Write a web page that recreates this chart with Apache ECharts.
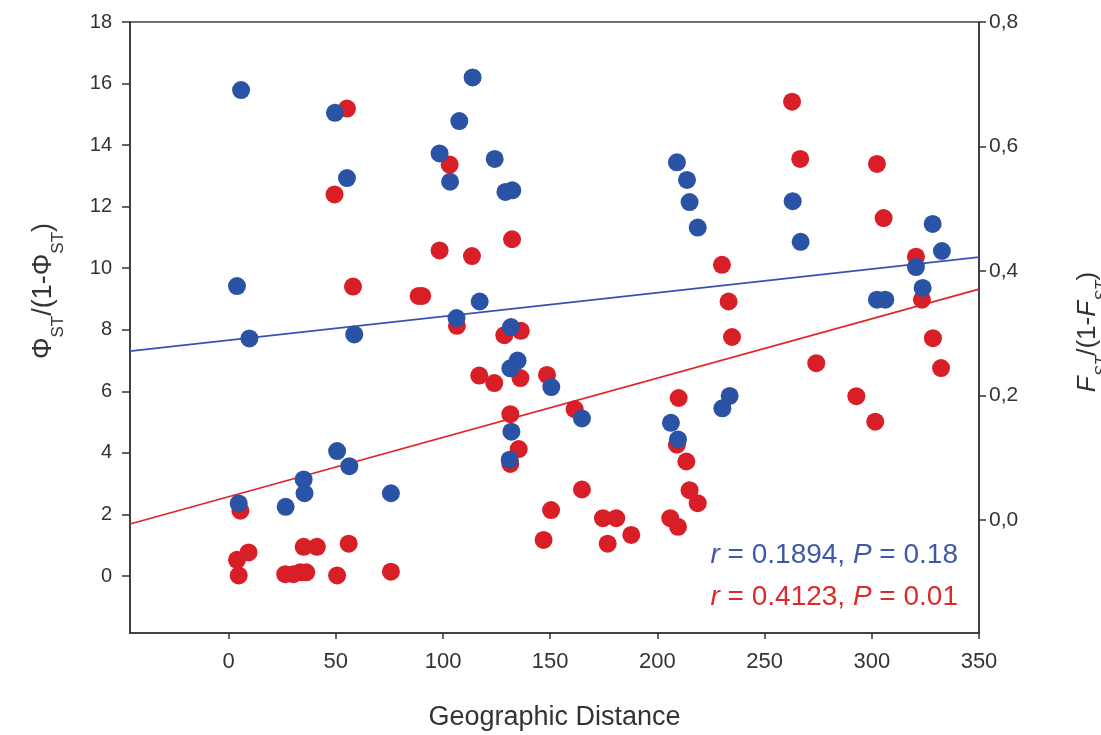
<!DOCTYPE html>
<html>
<head>
<meta charset="utf-8">
<script src="https://cdn.jsdelivr.net/npm/echarts@6/dist/echarts.min.js"></script>
<style>
html,body{margin:0;padding:0;background:#ffffff;}
#chart{width:1101px;height:735px;}
</style>
</head>
<body>
<div id="chart"></div>
<script>
// Blue: Phi_ST/(1-Phi_ST) vs geographic distance (left axis)
const blueDist = [5.8, 3.9, 9.7, 58.6, 50.6, 56.3, 35.0, 35.4, 4.7, 26.6, 75.7, 49.6, 55.2,
  113.8, 107.6, 98.4, 103.3, 124.1, 129.1, 132.3, 117.1, 106.3, 131.7,
  209.1, 213.8, 215.0, 218.8, 263.1, 266.8, 328.4, 332.7, 320.6, 323.7, 302.4, 306.3,
  134.8, 131.4, 150.5, 164.8, 131.9, 131.1, 206.3, 209.6, 233.7, 230.3];
const bluePhi = [15.79, 9.42, 7.72, 7.85, 4.06, 3.57, 3.14, 2.69, 2.36, 2.25, 2.69, 15.05, 12.93,
  16.2, 14.78, 13.73, 12.81, 13.55, 12.48, 12.53, 8.92, 8.38, 8.09,
  13.44, 12.87, 12.15, 11.32, 12.18, 10.86, 11.44, 10.56, 10.04, 9.36, 8.98, 8.98,
  7.0, 6.75, 6.14, 5.12, 4.69, 3.78, 4.98, 4.44, 5.85, 5.45];

// Red: F_ST/(1-F_ST) vs geographic distance (right axis)
const redDist = [55.2, 49.4, 58.0, 88.6, 5.5, 9.3, 3.9, 4.7, 35.0, 41.2, 56.0,
  26.4, 30.2, 33.4, 36.2, 50.6, 75.7,
  103.1, 98.4, 113.5, 132.2, 90.3, 106.5, 128.6, 136.3, 116.9, 123.9, 136.1, 148.5,
  131.4, 135.3, 131.4, 161.4, 209.9, 209.1, 213.5, 215.0, 218.8, 164.8, 150.4, 146.9,
  174.6, 180.8, 176.8, 187.8, 206.0, 209.6,
  262.8, 266.6, 302.4, 305.5, 230.1, 233.2, 320.6, 323.4, 234.8, 274.1, 292.8, 301.6, 328.5, 332.3];
const redF = [0.661, 0.523, 0.375, 0.360, 0.015, -0.052, -0.064, -0.089, -0.043, -0.043, -0.038,
  -0.087, -0.087, -0.084, -0.084, -0.089, -0.083,
  0.571, 0.433, 0.424, 0.451, 0.360, 0.312, 0.297, 0.304, 0.232, 0.220, 0.228, 0.233,
  0.170, 0.114, 0.090, 0.178, 0.196, 0.121, 0.094, 0.048, 0.027, 0.049, 0.016, -0.032,
  0.003, 0.003, -0.038, -0.024, 0.003, -0.011,
  0.672, 0.580, 0.572, 0.485, 0.410, 0.351, 0.423, 0.354, 0.294, 0.252, 0.199, 0.158, 0.292, 0.244];

// Regression line end points
const blueLineX = [-46, 350];
const blueLineY = [7.31, 10.36];
const redLineX = [-46, 350];
const redLineY = [-0.0064, 0.371];

// Tick labels
const xTicks = [0, 50, 100, 150, 200, 250, 300, 350];
const leftTicks = [0, 2, 4, 6, 8, 10, 12, 14, 16, 18];
const rightTicks = [0, 0.2, 0.4, 0.6, 0.8];

const annotBlue = ['r', ' = 0.1894, ', 'P', ' = 0.18'];
const annotRed = ['r', ' = 0.4123, ', 'P', ' = 0.01'];

const FONT = '"Liberation Sans", Arial, sans-serif';
const AXIS_COLOR = '#333333';
const BLUE = '#2a52a5';
const RED = '#d81e26';

const zip = (a, b) => a.map((v, i) => [v, b[i]]);

const chart = echarts.init(document.getElementById('chart'), null, {renderer: 'canvas'});

const axisLine = {show: true, onZero: false, lineStyle: {color: AXIS_COLOR, width: 1.6}};

chart.setOption({
  backgroundColor: '#ffffff',
  animation: false,
  grid: {
    left: 130, right: 122, top: 22, bottom: 102,
    show: true, borderColor: '#444', borderWidth: 1.4, backgroundColor: '#ffffff',
    containLabel: false, outerBoundsMode: 'none'
  },
  xAxis: {
    type: 'value', min: -46, max: 350,
    axisLine: axisLine,
    splitLine: {show: false},
    axisTick: {show: true, inside: false, length: 6, customValues: xTicks, lineStyle: {color: AXIS_COLOR, width: 1.5}},
    axisLabel: {customValues: xTicks, margin: 18, fontSize: 22, fontFamily: FONT, color: '#333'},
    name: 'Geographic Distance', nameLocation: 'middle', nameGap: 71,
    nameTextStyle: {fontSize: 27, fontFamily: FONT, color: '#333'}
  },
  yAxis: [{
    type: 'value', min: -1.85, max: 18, position: 'left',
    axisLine: axisLine,
    splitLine: {show: false},
    axisTick: {show: true, inside: false, length: 8, customValues: leftTicks, lineStyle: {color: AXIS_COLOR, width: 1.5}},
    axisLabel: {customValues: leftTicks, margin: 18, fontSize: 20, fontFamily: FONT, color: '#333'}
  }, {
    type: 'value', min: -0.1815, max: 0.8, position: 'right', alignTicks: false,
    axisLine: axisLine,
    splitLine: {show: false},
    axisTick: {show: true, inside: false, length: 7, customValues: rightTicks, lineStyle: {color: AXIS_COLOR, width: 1.5}},
    axisLabel: {customValues: rightTicks, margin: 10, fontSize: 21, fontFamily: FONT, color: '#333',
      formatter: v => v.toFixed(1).replace('.', ',')}
  }],
  graphic: [{
    type: 'text', x: 44, y: 291, rotation: Math.PI / 2,
    style: {
      text: '{m|Φ}{s|ST}{m|/(1-Φ}{s|ST}{m|)}',
      align: 'center', verticalAlign: 'middle', fill: '#333',
      rich: {
        m: {fontSize: 27, fontFamily: FONT, lineHeight: 28, verticalAlign: 'top', fill: '#333'},
        s: {fontSize: 17, fontFamily: FONT, lineHeight: 18, verticalAlign: 'top', padding: [20, 0, 0, 0], fill: '#333'}
      }
    }
  }, {
    type: 'text', x: 1089, y: 332, rotation: Math.PI / 2,
    style: {
      text: '{mi|F}{s|ST}{m|/(1-}{mi|F}{s|ST}{m|)}',
      align: 'center', verticalAlign: 'middle', fill: '#333',
      rich: {
        m: {fontSize: 26, fontFamily: FONT, lineHeight: 28, verticalAlign: 'top', fill: '#333'},
        mi: {fontSize: 26, fontFamily: FONT, fontStyle: 'italic', lineHeight: 28, verticalAlign: 'top', fill: '#333'},
        s: {fontSize: 16, fontFamily: FONT, fontStyle: 'italic', lineHeight: 18, verticalAlign: 'top', padding: [20, 0, 0, 0], fill: '#333'}
      }
    }
  }, {
    type: 'text', x: 958, y: 555,
    style: {
      text: '{i|' + annotBlue[0] + '}{n|' + annotBlue[1] + '}{i|' + annotBlue[2] + '}{n|' + annotBlue[3] + '}',
      align: 'right', verticalAlign: 'middle',
      rich: {
        i: {fontSize: 28, fontFamily: FONT, fontStyle: 'italic', fill: '#3d5aa8'},
        n: {fontSize: 28, fontFamily: FONT, fill: '#3d5aa8'}
      }
    }
  }, {
    type: 'text', x: 958, y: 597,
    style: {
      text: '{i|' + annotRed[0] + '}{n|' + annotRed[1] + '}{i|' + annotRed[2] + '}{n|' + annotRed[3] + '}',
      align: 'right', verticalAlign: 'middle',
      rich: {
        i: {fontSize: 28, fontFamily: FONT, fontStyle: 'italic', fill: '#dc2a2a'},
        n: {fontSize: 28, fontFamily: FONT, fill: '#dc2a2a'}
      }
    }
  }],
  series: [{
    type: 'line', name: 'Fst fit', yAxisIndex: 1, data: zip(redLineX, redLineY),
    showSymbol: false, symbol: 'none', lineStyle: {color: '#e0262a', width: 1.8}, z: 1, silent: true
  }, {
    type: 'line', name: 'Phist fit', yAxisIndex: 0, data: zip(blueLineX, blueLineY),
    showSymbol: false, symbol: 'none', lineStyle: {color: '#3a52b4', width: 1.8}, z: 1, silent: true
  }, {
    type: 'scatter', name: 'Fst', yAxisIndex: 1, data: zip(redDist, redF),
    symbolSize: 18, itemStyle: {color: RED, opacity: 1}, z: 2
  }, {
    type: 'scatter', name: 'Phist', yAxisIndex: 0, data: zip(blueDist, bluePhi),
    symbolSize: 18, itemStyle: {color: BLUE, opacity: 1}, z: 3
  }]
});
</script>
</body>
</html>
